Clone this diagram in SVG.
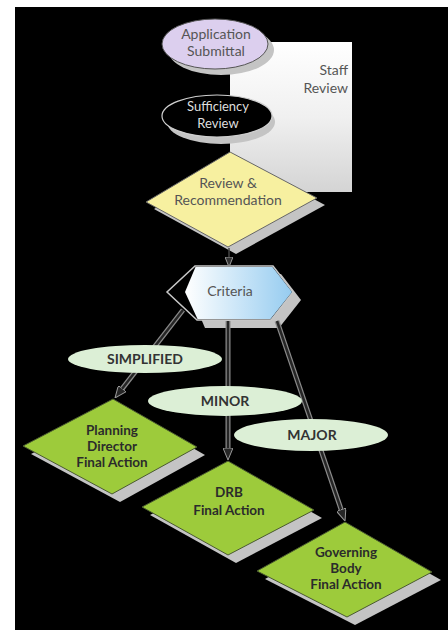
<svg xmlns="http://www.w3.org/2000/svg" width="448" height="630" viewBox="0 0 448 630">
  <defs>
    <style>
      .t { font-family: "Lato", "Liberation Sans", sans-serif; text-anchor: middle; }
      .soft { fill: #555; font-size: 14px; }
      .bold { fill: #2b2b2b; font-size: 13.5px; font-weight: bold; }
      .lab { fill: #333; font-size: 14px; font-weight: bold; }
      .shadow { fill: #c4c4c4; }
      .green { fill: #9dcb3b; stroke: #4a5a30; stroke-width: 1; }
      .label { fill: #dcefd6; }
      .halo { stroke: #8a8a8a; stroke-width: 5; fill: none; }
      .edge { stroke: #262626; stroke-width: 2.5; fill: none; }
    </style>
    <linearGradient id="panelGrad" x1="0" y1="0" x2="0" y2="1">
      <stop offset="0" stop-color="#ffffff"/>
      <stop offset="0.5" stop-color="#f0f0f0"/>
      <stop offset="1" stop-color="#d4d4d4"/>
    </linearGradient>
    <linearGradient id="critGrad" x1="0" y1="0" x2="1" y2="0">
      <stop offset="0" stop-color="#ffffff"/>
      <stop offset="1" stop-color="#96ccf0"/>
    </linearGradient>
    <marker id="arr" viewBox="0 0 12 10" refX="2" refY="5" markerWidth="12" markerHeight="10" markerUnits="userSpaceOnUse" orient="auto">
      <path d="M0,0 L12,5 L0,10 z" fill="#262626" stroke="#9a9a9a" stroke-width="1"/>
    </marker>
    <marker id="arrS" viewBox="0 0 10 8" refX="2" refY="4" markerWidth="10" markerHeight="8" markerUnits="userSpaceOnUse" orient="auto">
      <path d="M0,0 L10,4 L0,8 z" fill="#333" stroke="#999" stroke-width="1"/>
    </marker>
  </defs>

  <rect x="0" y="0" width="448" height="630" fill="#ffffff"/>
  <rect x="15" y="7" width="433" height="623" fill="#000000"/>

  <g id="staff-review">
    <rect x="230" y="42" width="122" height="150" fill="url(#panelGrad)"/>
    <text class="t soft" x="348" y="75" style="text-anchor:end">Staff</text>
    <text class="t soft" x="348" y="93" style="text-anchor:end">Review</text>
  </g>

  <g id="application-submittal">
    <ellipse class="shadow" cx="221" cy="50" rx="53" ry="25"/>
    <ellipse cx="215" cy="44" rx="53" ry="25" fill="#dccfee" stroke="#555" stroke-width="1"/>
    <text class="t soft" x="216" y="39" font-size="15">Application</text>
    <text class="t soft" x="216" y="56" font-size="15">Submittal</text>
  </g>

  <g id="sufficiency-review">
    <ellipse class="shadow" cx="221" cy="122" rx="54" ry="22"/>
    <ellipse cx="217" cy="116" rx="55" ry="21" fill="#000" stroke="#cfcfcf" stroke-width="1.2"/>
    <text class="t" x="218" y="111" fill="#dedede" font-size="13">Sufficiency</text>
    <text class="t" x="218" y="128" fill="#dedede" font-size="13">Review</text>
  </g>

  <g id="review-recommendation">
    <polygon class="shadow" points="238,159 325,205 236,254 154,209"/>
    <polygon points="230,152 317,198 228,247 146,202" fill="#f7f0a0" stroke="#666" stroke-width="1"/>
    <text class="t soft" x="228" y="188" font-size="15">Review &amp;</text>
    <text class="t soft" x="228" y="205" font-size="15">Recommendation</text>
  </g>

  <g id="criteria">
    <polygon class="shadow" points="205,274 281,274 301,300 279,328 205,328 193,300"/>
    <polygon points="195,266 273,266 293,292 271,320 197,320 167,292" fill="#000000" stroke="#c8c8c8" stroke-width="1.5"/>
    <polygon points="195.5,267 272.5,267 292,292 270.5,319 197.5,319 185,292" fill="url(#critGrad)"/>
    <text class="t soft" x="230" y="296" font-size="15">Criteria</text>
  </g>

  <g id="planning-director">
    <polygon class="shadow" points="121,407 205,455 120,502 31,454"/>
    <polygon class="green" points="113,399 197,447 112,494 23,446"/>
    <text class="t bold" x="112" y="435">Planning</text>
    <text class="t bold" x="112" y="451">Director</text>
    <text class="t bold" x="112" y="467">Final Action</text>
  </g>

  <g id="drb">
    <polygon class="shadow" points="236,469 322,518 236,563 150,515"/>
    <polygon class="green" points="228,461 314,510 228,555 142,507"/>
    <text class="t bold" x="229" y="497">DRB</text>
    <text class="t bold" x="229" y="515">Final Action</text>
  </g>

  <g id="governing-body">
    <polygon class="shadow" points="353,530 441,580 355,625 265,579"/>
    <polygon class="green" points="345,522 432,572 347,617 257,571"/>
    <text class="t bold" x="346" y="557">Governing</text>
    <text class="t bold" x="346" y="573">Body</text>
    <text class="t bold" x="346" y="589">Final Action</text>
  </g>

  <g id="connectors">
    <line x1="229" y1="248" x2="229" y2="259" stroke="#444" stroke-width="1.5" marker-end="url(#arrS)"/>
    <line class="halo" x1="183" y1="310" x2="121.1" y2="390.1"/>
    <line class="edge" x1="183" y1="310" x2="121.1" y2="390.1" marker-end="url(#arr)"/>
    <line class="halo" x1="228" y1="321" x2="228" y2="450"/>
    <line class="edge" x1="228" y1="321" x2="228" y2="450" marker-end="url(#arr)"/>
    <line class="halo" x1="277" y1="321" x2="341.8" y2="511.5"/>
    <line class="edge" x1="277" y1="321" x2="341.8" y2="511.5" marker-end="url(#arr)"/>
  </g>

  <g id="label-simplified">
    <ellipse class="label" cx="145" cy="359" rx="77" ry="14"/>
    <text class="t lab" x="145" y="364">SIMPLIFIED</text>
  </g>
  <g id="label-minor">
    <ellipse class="label" cx="225" cy="401" rx="77" ry="15"/>
    <text class="t lab" x="225" y="406">MINOR</text>
  </g>
  <g id="label-major">
    <ellipse class="label" cx="311" cy="435" rx="77" ry="16"/>
    <text class="t lab" x="312" y="440">MAJOR</text>
  </g>
</svg>
